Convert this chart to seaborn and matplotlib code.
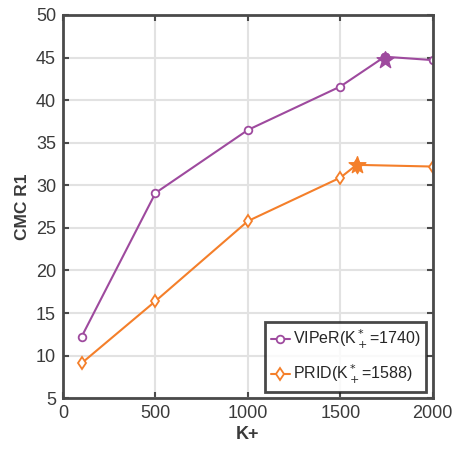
import seaborn as sns
import pandas as pd
import matplotlib.pyplot as plt

k_values = [100, 500, 1000, 1500, 2000]
viper_r1 = [12.2, 29.1, 36.5, 41.6, 44.7]
prid_r1 = [9.1, 16.4, 25.8, 30.9, 32.2]

# best K+ points (marked with a star)
viper_best_k = [1740]
viper_best_r1 = [45.1]
prid_best_k = [1588]
prid_best_r1 = [32.4]

purple = "#9e4a9e"
orange = "#f47f2a"

sns.set_theme(style="whitegrid")
plt.rcParams['font.family'] = ['Liberation Sans', 'DejaVu Sans']

viper = pd.DataFrame({"K": k_values[:4] + viper_best_k + k_values[4:],
                      "R1": viper_r1[:4] + viper_best_r1 + viper_r1[4:]})
prid = pd.DataFrame({"K": k_values[:4] + prid_best_k + k_values[4:],
                     "R1": prid_r1[:4] + prid_best_r1 + prid_r1[4:]})

fig = plt.figure(figsize=(4.57, 4.54), dpi=100)
ax = fig.add_axes([0.138, 0.123, 0.809, 0.844])

sns.lineplot(ax=ax, data=viper, x="K", y="R1", color=purple, marker="o",
             markersize=5.5, markerfacecolor="white", markeredgecolor=purple,
             markeredgewidth=1.3, linewidth=1.5,
             label=r"VIPeR(K$^*_+$=1740)")
sns.lineplot(ax=ax, data=prid, x="K", y="R1", color=orange, marker="d",
             markersize=6.5, markerfacecolor="white", markeredgecolor=orange,
             markeredgewidth=1.3, linewidth=1.5,
             label=r"PRID(K$^*_+$=1588)")

# highlight best points
sns.scatterplot(ax=ax, x=viper_best_k, y=viper_best_r1, color=purple, marker="o",
                s=45, edgecolor=purple, zorder=5, legend=False)
sns.scatterplot(ax=ax, x=viper_best_k, y=[44.7], color=purple, marker="*",
                s=160, edgecolor=purple, zorder=5, legend=False)
sns.scatterplot(ax=ax, x=prid_best_k, y=[32.2], color=orange, marker="d",
                s=45, edgecolor=orange, zorder=5, legend=False)
sns.scatterplot(ax=ax, x=prid_best_k, y=prid_best_r1, color=orange, marker="*",
                s=160, edgecolor=orange, zorder=5, legend=False)

ax.set_xlim(0, 2000)
ax.set_ylim(5, 50)
ax.set_xticks(range(0, 2001, 500))
ax.set_yticks(range(5, 51, 5))
ax.set_facecolor("white")
ax.grid(True, color="#e2e2e2", linewidth=1.5)
for s in ax.spines.values():
    s.set_visible(True)
    s.set_color("#4a4a4a")
    s.set_linewidth(2)
ax.tick_params(axis="both", direction="in", length=4, width=1.5, color="#4a4a4a",
               labelsize=13, labelcolor="#3a3a3a", pad=5, top=True, right=True,
               bottom=True, left=True)
ax.set_xlabel("K+", fontsize=13, fontweight="bold", color="#3a3a3a", labelpad=3)
ax.set_ylabel("CMC R1", fontsize=12.5, fontweight="bold", color="#3a3a3a", labelpad=4)

leg = ax.legend(loc="lower right", fontsize=11.5, frameon=True, fancybox=False,
                borderpad=0.35, handlelength=1.2, handletextpad=0.2,
                labelspacing=0.75, borderaxespad=0.4)
leg.get_frame().set_edgecolor("#1a1a1a")
leg.get_frame().set_linewidth(2)

fig.savefig("out.png", dpi=100)
